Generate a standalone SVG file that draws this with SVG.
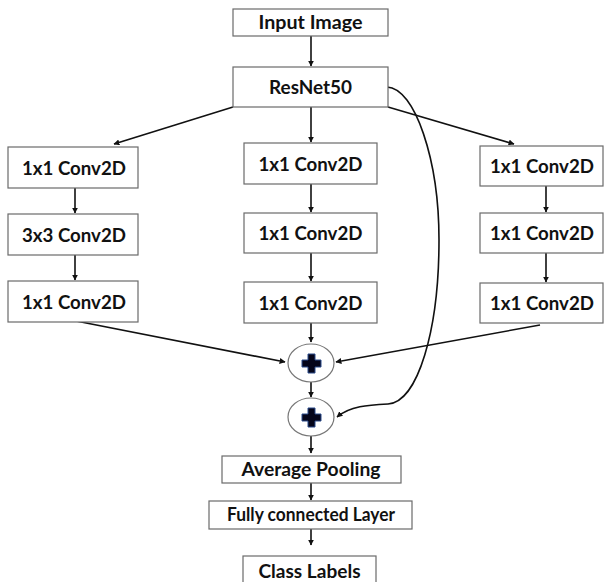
<svg xmlns="http://www.w3.org/2000/svg" width="605" height="582" viewBox="0 0 605 582">
<defs>
<style>
.box{fill:#fff;stroke:#6a6a6a;stroke-width:1.2}
.t{font-family:Lato,"Liberation Sans",sans-serif;font-weight:bold;font-size:19px;fill:#111;text-anchor:middle}
.c{fill:none;stroke:#111;stroke-width:1.6}
.circ{fill:#fff;stroke:#777;stroke-width:1.2}
.plus{fill:#05051a;stroke:#2a4a8a;stroke-width:1}
</style>
<marker id="ah" viewBox="0 0 10 10" refX="9" refY="5" markerWidth="6" markerHeight="6" markerUnits="userSpaceOnUse" orient="auto">
<path d="M0,0 L10,5 L0,10 Z" fill="#111"/>
</marker>
</defs>
<rect width="605" height="582" fill="#fff"/>
<g id="connectors">
<line class="c" x1="311" y1="36" x2="311" y2="66" marker-end="url(#ah)"/>
<line class="c" x1="233" y1="107" x2="114" y2="144" marker-end="url(#ah)"/>
<line class="c" x1="311" y1="107" x2="311" y2="142" marker-end="url(#ah)"/>
<line class="c" x1="388" y1="107" x2="514" y2="144" marker-end="url(#ah)"/>
<line class="c" x1="75" y1="188" x2="75" y2="213" marker-end="url(#ah)"/>
<line class="c" x1="75" y1="255" x2="75" y2="280" marker-end="url(#ah)"/>
<line class="c" x1="311" y1="184" x2="311" y2="212" marker-end="url(#ah)"/>
<line class="c" x1="311" y1="253" x2="311" y2="281" marker-end="url(#ah)"/>
<line class="c" x1="546" y1="186" x2="546" y2="212" marker-end="url(#ah)"/>
<line class="c" x1="546" y1="253" x2="546" y2="282" marker-end="url(#ah)"/>
<line class="c" x1="76" y1="321" x2="285" y2="362" marker-end="url(#ah)"/>
<line class="c" x1="311" y1="323" x2="311" y2="342" marker-end="url(#ah)"/>
<line class="c" x1="540" y1="325" x2="336" y2="362" marker-end="url(#ah)"/>
<line class="c" x1="311" y1="382" x2="311" y2="397" marker-end="url(#ah)"/>
<path class="c" d="M387,87 C415,88 439,160 439,240 C439,330 418,402 388,404 C368,405 350,406 337,417" marker-end="url(#ah)"/>
<line class="c" x1="311" y1="436" x2="311" y2="453" marker-end="url(#ah)"/>
<line class="c" x1="311" y1="483" x2="311" y2="500" marker-end="url(#ah)"/>
<line class="c" x1="311" y1="529" x2="311" y2="545" marker-end="url(#ah)"/>
</g>
<g id="input"><rect class="box" x="233" y="9" width="155" height="27"/><text class="t" x="310.5" y="29" textLength="104" lengthAdjust="spacingAndGlyphs">Input Image</text></g>
<g id="resnet"><rect class="box" x="233" y="67" width="155" height="40"/><text class="t" x="310.5" y="93.5" textLength="83" lengthAdjust="spacingAndGlyphs">ResNet50</text></g>
<g id="l1"><rect class="box" x="8" y="147" width="130" height="41"/><text class="t" x="74" y="174.5" textLength="104" lengthAdjust="spacingAndGlyphs">1x1 Conv2D</text></g>
<g id="l2"><rect class="box" x="8" y="214" width="130" height="41"/><text class="t" x="74" y="241.5" textLength="104" lengthAdjust="spacingAndGlyphs">3x3 Conv2D</text></g>
<g id="l3"><rect class="box" x="8" y="281" width="130" height="41"/><text class="t" x="74" y="308.5" textLength="104" lengthAdjust="spacingAndGlyphs">1x1 Conv2D</text></g>
<g id="m1"><rect class="box" x="244" y="143" width="133" height="41"/><text class="t" x="310.5" y="170.5" textLength="104" lengthAdjust="spacingAndGlyphs">1x1 Conv2D</text></g>
<g id="m2"><rect class="box" x="244" y="213" width="133" height="40"/><text class="t" x="310.5" y="240" textLength="104" lengthAdjust="spacingAndGlyphs">1x1 Conv2D</text></g>
<g id="m3"><rect class="box" x="244" y="282" width="133" height="41"/><text class="t" x="310.5" y="309.5" textLength="104" lengthAdjust="spacingAndGlyphs">1x1 Conv2D</text></g>
<g id="r1"><rect class="box" x="480" y="146" width="123" height="40"/><text class="t" x="542" y="172.5" textLength="104" lengthAdjust="spacingAndGlyphs">1x1 Conv2D</text></g>
<g id="r2"><rect class="box" x="480" y="213" width="123" height="40"/><text class="t" x="542" y="239.5" textLength="104" lengthAdjust="spacingAndGlyphs">1x1 Conv2D</text></g>
<g id="r3"><rect class="box" x="480" y="283" width="123" height="40"/><text class="t" x="542" y="309.5" textLength="104" lengthAdjust="spacingAndGlyphs">1x1 Conv2D</text></g>
<g id="add1"><ellipse class="circ" cx="311" cy="363" rx="23" ry="19"/><path class="plus" d="M308,354 h7 v6 h6 v7 h-6 v6 h-7 v-6 h-6 v-7 h6 Z"/></g>
<g id="add2"><ellipse class="circ" cx="311" cy="417" rx="23" ry="19"/><path class="plus" d="M308,408 h7 v6 h6 v7 h-6 v6 h-7 v-6 h-6 v-7 h6 Z"/></g>
<g id="avgpool"><rect class="box" x="222" y="456" width="179" height="27"/><text class="t" x="311" y="476" textLength="139" lengthAdjust="spacingAndGlyphs">Average Pooling</text></g>
<g id="fc"><rect class="box" x="209" y="501" width="203" height="28"/><text class="t" x="311" y="521" textLength="168" lengthAdjust="spacingAndGlyphs">Fully connected Layer</text></g>
<g id="labels"><rect class="box" x="243" y="556" width="133" height="30"/><text class="t" x="309.5" y="578" textLength="102" lengthAdjust="spacingAndGlyphs">Class Labels</text></g>
</svg>
